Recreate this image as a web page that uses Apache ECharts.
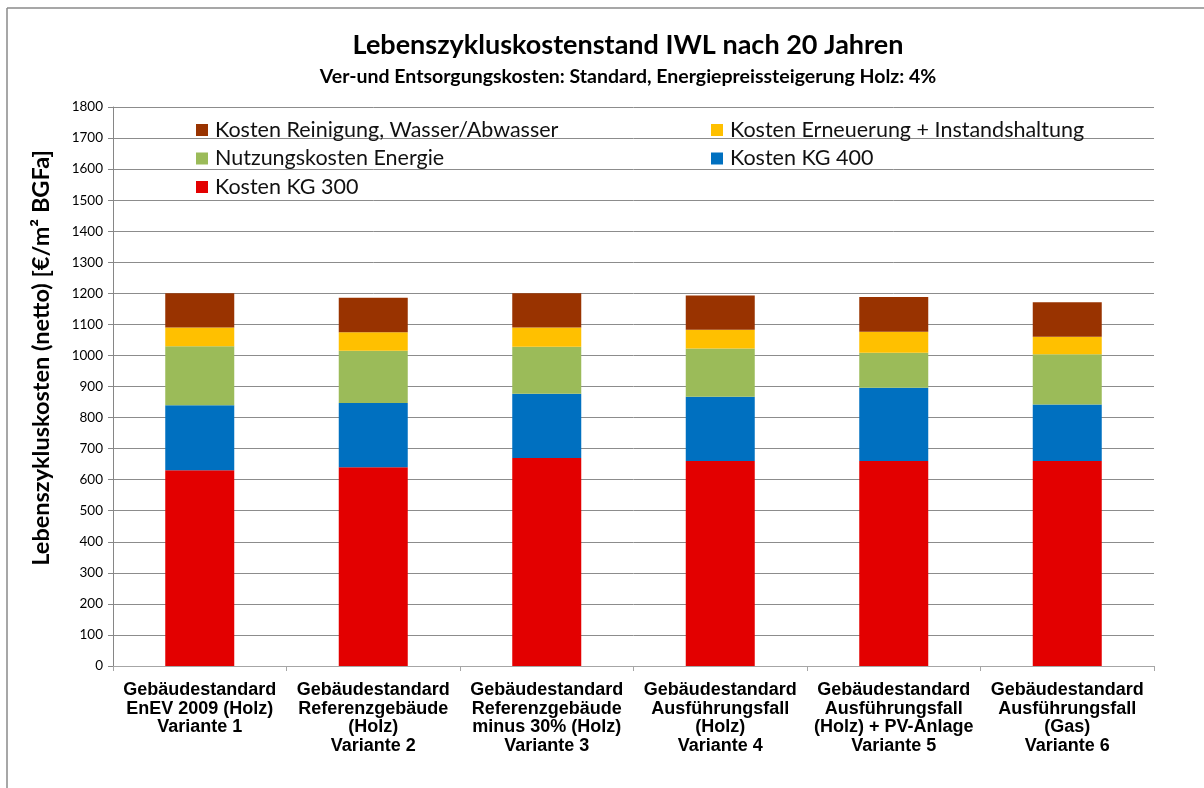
<!DOCTYPE html>
<html>
<head>
<meta charset="utf-8">
<script src="https://cdn.jsdelivr.net/npm/echarts@6/dist/echarts.min.js"></script>
<style>
  html, body { margin: 0; padding: 0; background: #ffffff; }
  #chart { width: 1204px; height: 788px; }
</style>
</head>
<body>
<div id="chart"></div>
<script>
// Variants (x-axis categories)
const categories = [
  'Gebäudestandard\nEnEV 2009 (Holz)\nVariante 1',
  'Gebäudestandard\nReferenzgebäude\n(Holz)\nVariante 2',
  'Gebäudestandard\nReferenzgebäude\nminus 30% (Holz)\nVariante 3',
  'Gebäudestandard\nAusführungsfall\n(Holz)\nVariante 4',
  'Gebäudestandard\nAusführungsfall\n(Holz) + PV-Anlage\nVariante 5',
  'Gebäudestandard\nAusführungsfall\n(Gas)\nVariante 6'
];

// Cost components in €/m² BGFa, stacked bottom to top
const kostenKG300 = [630, 640, 670, 660, 660, 660];
const kostenKG400 = [210, 207, 207, 207, 236, 182];
const nutzungskostenEnergie = [190, 168, 151, 155, 113, 162];
const kostenErneuerung = [60, 60, 62, 61, 67, 56];
const kostenReinigung = [110, 111, 110, 110, 112, 111];

const seriesNames = [
  'Kosten KG 300',
  'Kosten KG 400',
  'Nutzungskosten Energie',
  'Kosten Erneuerung + Instandshaltung',
  'Kosten Reinigung, Wasser/Abwasser'
];
const seriesData = [kostenKG300, kostenKG400, nutzungskostenEnergie, kostenErneuerung, kostenReinigung];
const seriesColors = ['#e30000', '#0070c0', '#9bbb59', '#ffc000', '#993300'];

const chart = echarts.init(document.getElementById('chart'), null, { renderer: 'canvas' });

const legendText = { fontFamily: 'Lato', fontSize: 21.5, color: '#111', lineHeight: 22 };

chart.setOption({
  backgroundColor: '#ffffff',
  animation: false,
  grid: { left: 113, right: 50, top: 107, bottom: 122, containLabel: false },
  graphic: [
    { type: 'line', shape: { x1: 7, y1: 8, x2: 1204, y2: 8 }, style: { stroke: '#8a8a8a', lineWidth: 1.5 } },
    { type: 'line', shape: { x1: 7, y1: 8, x2: 7, y2: 788 }, style: { stroke: '#8a8a8a', lineWidth: 1.5 } },
    {
      type: 'text', x: 628, y: 45,
      style: { text: 'Lebenszykluskostenstand IWL nach 20 Jahren', font: 'bold 27px Lato', fill: '#000', align: 'center', verticalAlign: 'middle' }
    },
    {
      type: 'text', x: 628, y: 77,
      style: { text: 'Ver-und Entsorgungskosten: Standard, Energiepreissteigerung Holz: 4%', font: 'bold 19.5px Lato', fill: '#000', align: 'center', verticalAlign: 'middle' }
    },
    {
      type: 'text', x: 41, y: 358, rotation: Math.PI / 2,
      style: { text: 'Lebenszykluskosten (netto) [€/m² BGFa]', font: 'bold 23.5px Lato', fill: '#000', align: 'center', verticalAlign: 'middle' }
    }
  ],
  legend: [
    {
      orient: 'vertical', left: 196, top: 119, padding: 0,
      itemWidth: 12, itemHeight: 12, itemGap: 6.5, icon: 'rect',
      data: ['Kosten Reinigung, Wasser/Abwasser', 'Nutzungskosten Energie', 'Kosten KG 300'],
      textStyle: Object.assign({ padding: [0, 0, 0, 2] }, legendText)
    },
    {
      orient: 'vertical', left: 711, top: 119, padding: 0,
      itemWidth: 12, itemHeight: 12, itemGap: 6.5, icon: 'rect',
      data: ['Kosten Erneuerung + Instandshaltung', 'Kosten KG 400'],
      textStyle: Object.assign({ padding: [0, 0, 0, 2] }, legendText)
    }
  ],
  xAxis: {
    type: 'category',
    data: categories,
    axisLine: { lineStyle: { color: '#a6a6a6', width: 1 } },
    axisTick: { show: true, length: 5, lineStyle: { color: '#a6a6a6' } },
    axisLabel: {
      interval: 0, margin: 15,
      fontFamily: 'Liberation Sans', fontWeight: 'bold', fontSize: 18, lineHeight: 18.5, color: '#000'
    }
  },
  yAxis: {
    type: 'value',
    min: 0, max: 1800, interval: 100,
    axisLine: { show: true, lineStyle: { color: '#868686', width: 1 } },
    axisTick: { show: true, length: 5, lineStyle: { color: '#868686' } },
    axisLabel: { fontFamily: 'Lato', fontSize: 13.5, color: '#000', margin: 10, formatter: (v) => String(v) },
    splitLine: { show: true, lineStyle: { color: '#8c8c8c', width: 1 } }
  },
  series: seriesNames.map((name, i) => ({
    name: name,
    type: 'bar',
    stack: 'kosten',
    barWidth: 69,
    data: seriesData[i],
    itemStyle: { color: seriesColors[i] }
  }))
});
</script>
</body>
</html>
